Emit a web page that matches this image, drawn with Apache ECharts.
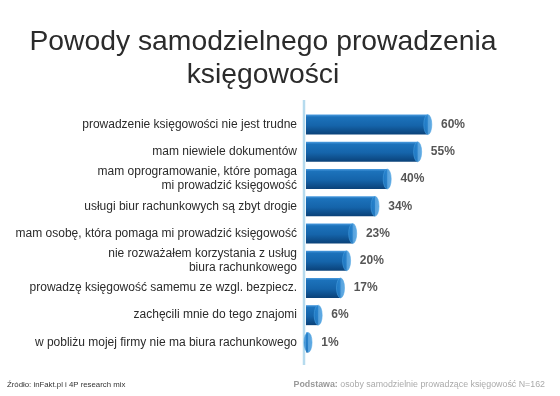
<!DOCTYPE html>
<html><head><meta charset="utf-8">
<script src="https://cdn.jsdelivr.net/npm/echarts@6/dist/echarts.min.js"></script>
<style>html,body{margin:0;padding:0;background:#fff}#c{width:560px;height:396px}</style>
</head><body><div id="c"></div>
<script>
const titleText = 'Powody samodzielnego prowadzenia\nksięgowości';
const categories = [
  'prowadzenie księgowości nie jest trudne',
  'mam niewiele dokumentów',
  'mam oprogramowanie, które pomaga\nmi prowadzić księgowość',
  'usługi biur rachunkowych są zbyt drogie',
  'mam osobę, która pomaga mi prowadzić księgowość',
  'nie rozważałem korzystania z usług\nbiura rachunkowego',
  'prowadzę księgowość samemu ze wzgl. bezpiecz.',
  'zachęcili mnie do tego znajomi',
  'w pobliżu mojej firmy nie ma biura rachunkowego'
];
const values = [60, 55, 40, 34, 23, 20, 17, 6, 1];
const sourceText = 'Źródło: inFakt.pl i 4P research mix';
const baseLabel = 'Podstawa:';
const baseText = ' osoby samodzielnie prowadzące księgowość N=162';

const FONT = '"Liberation Sans", Arial, Helvetica, sans-serif';
const chart = echarts.init(document.getElementById('c'), null, {renderer: 'canvas'});
const barGrad = new echarts.graphic.LinearGradient(0, 0, 0, 1, [
  {offset: 0, color: '#4b9ce0'},
  {offset: 0.12, color: '#1c72bb'},
  {offset: 0.55, color: '#1564aa'},
  {offset: 1, color: '#0a4178'}
]);
const capGrad = new echarts.graphic.LinearGradient(0, 0, 1, 0, [
  {offset: 0, color: '#1f7bc8'},
  {offset: 1, color: '#3c98de'}
]);
chart.setOption({
  animation: false,
  backgroundColor: '#ffffff',
  grid: {left: 306, top: 111, width: 203, height: 245, containLabel: false},
  xAxis: {type: 'value', min: 0, max: 100, show: false},
  yAxis: {
    type: 'category', data: categories, inverse: true,
    axisLine: {show: false}, axisTick: {show: false}, splitLine: {show: false},
    axisLabel: {margin: 9, fontFamily: FONT, fontSize: 12, color: '#2b2b2b', lineHeight: 14, align: 'right'}
  },
  graphic: [
    {type: 'text', x: 263, y: 26, style: {text: titleText, textAlign: 'center', fontFamily: FONT, fontSize: 28.3, lineHeight: 33, fill: '#2b2b2b'}},
    {type: 'line', shape: {x1: 304, y1: 100, x2: 304, y2: 365}, style: {stroke: '#b6dbee', lineWidth: 2.5}, z: 1},
    {type: 'text', left: 7, top: 381, style: {text: sourceText, fontFamily: FONT, fontSize: 7.8, fill: '#333'}},
    {type: 'text', right: 15, top: 380, style: {
      text: '{b|' + baseLabel + '}{n|' + baseText + '}',
      rich: {
        b: {fontFamily: FONT, fontSize: 8.85, fontWeight: 'bold', fill: '#999', color: '#999'},
        n: {fontFamily: FONT, fontSize: 8.85, fill: '#aaa', color: '#aaa'}
      }
    }}
  ],
  series: [
    {
      type: 'bar', data: values, barWidth: 20, z: 2,
      itemStyle: {color: barGrad}
    },
    {
      type: 'scatter', data: values.map((v, i) => [v, i]), z: 3,
      symbol: 'circle', symbolSize: [8, 20],
      itemStyle: {color: capGrad, borderColor: '#4aa3e3', borderWidth: 0.6},
      label: {
        show: true, position: 'right', distance: 9,
        formatter: p => p.value[0] + '%',
        fontFamily: FONT, fontSize: 12, fontWeight: 'bold', color: '#2b2b2b'
      }
    }
  ]
});
</script></body></html>
